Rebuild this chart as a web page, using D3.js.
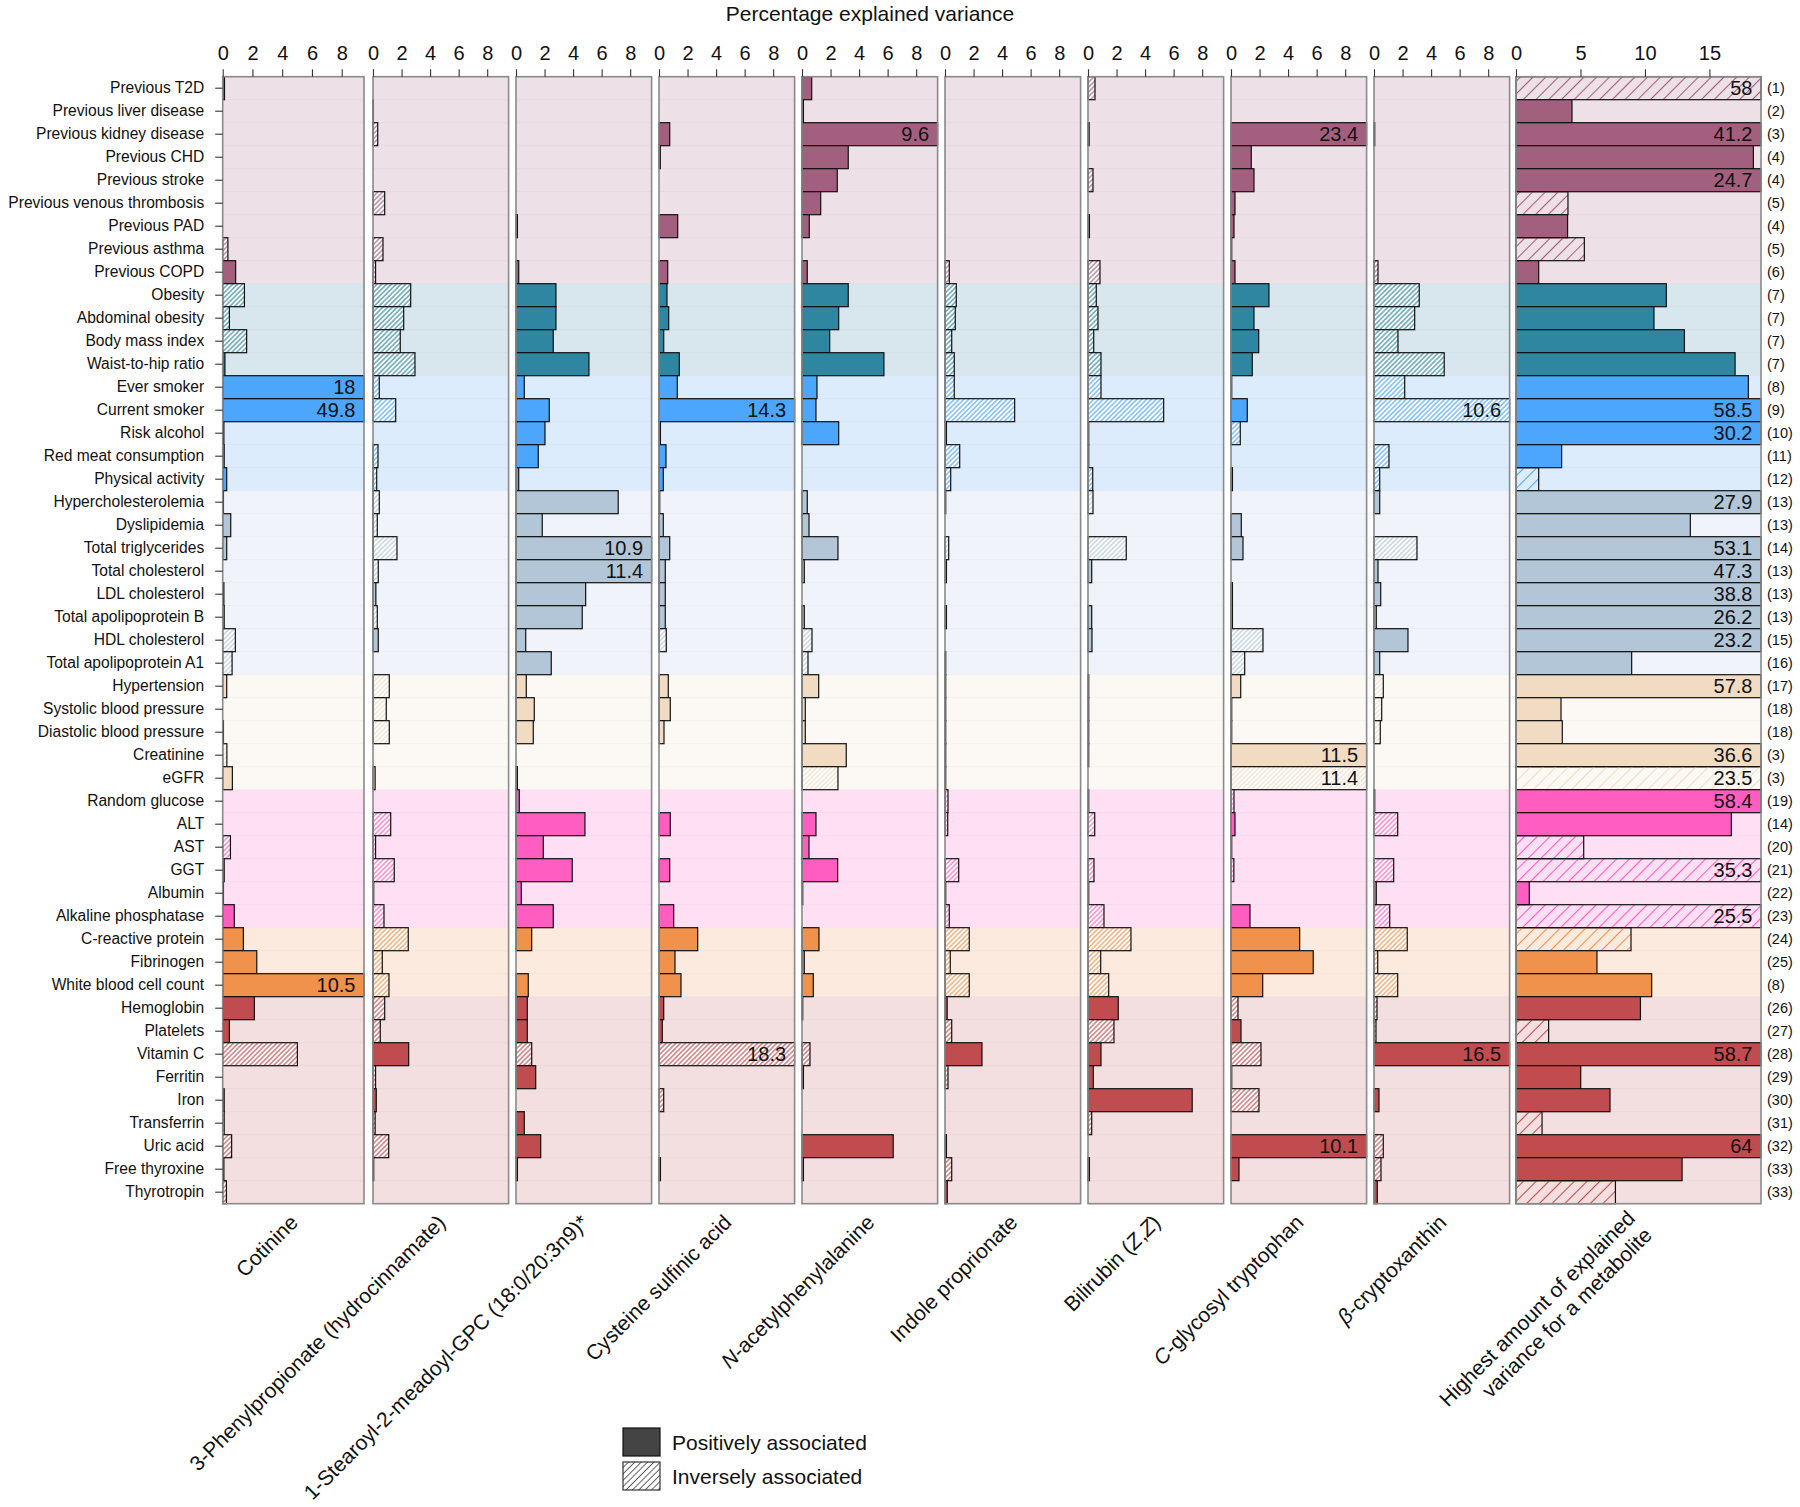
<!DOCTYPE html>
<html><head><meta charset="utf-8">
<script src="https://cdn.jsdelivr.net/npm/d3@7"></script>
<style>
body{margin:0;background:#fff}
svg{display:block;font-family:"Liberation Sans",Arial,Helvetica,sans-serif}
</style>
</head><body>
<svg id="chart" width="1800" height="1507"></svg>
<script>
// ---------------- DATA ----------------
const traits = ["Previous T2D","Previous liver disease","Previous kidney disease","Previous CHD","Previous stroke",
"Previous venous thrombosis","Previous PAD","Previous asthma","Previous COPD",
"Obesity","Abdominal obesity","Body mass index","Waist-to-hip ratio",
"Ever smoker","Current smoker","Risk alcohol","Red meat consumption","Physical activity",
"Hypercholesterolemia","Dyslipidemia","Total triglycerides","Total cholesterol","LDL cholesterol",
"Total apolipoprotein B","HDL cholesterol","Total apolipoprotein A1",
"Hypertension","Systolic blood pressure","Diastolic blood pressure","Creatinine","eGFR",
"Random glucose","ALT","AST","GGT","Albumin","Alkaline phosphatase",
"C-reactive protein","Fibrinogen","White blood cell count",
"Hemoglobin","Platelets","Vitamin C","Ferritin","Iron","Transferrin","Uric acid","Free thyroxine","Thyrotropin"];

const groupSizes = [9,4,5,8,5,6,3,9];
const groupBarColors = ["#a2607e","#2f86a1","#4ca6fb","#b3c6d8","#f1dcc3","#ff5dbf","#f0914c","#c14c4f"];
const groupBgColors  = ["#eee0e7","#d8e6ed","#ddecfc","#f0f3f9","#fcf9f4","#ffdff3","#fdeadf","#f3dfdf"];

const refNumbers = [1,2,3,4,4,5,4,5,6,7,7,7,7,8,9,10,11,12,13,13,14,13,13,13,15,16,17,18,18,3,3,
19,14,20,21,22,23,24,25,8,26,27,28,29,30,31,32,33,33];

// "_" toggles italic
const metaboliteNames = ["Cotinine","3-Phenylpropionate (hydrocinnamate)","1-Stearoyl-2-meadoyl-GPC (18:0/20:3n9)*",
"Cysteine sulfinic acid","_N_-acetylphenylalanine","Indole proprionate","Bilirubin (_Z_,_Z_)",
"_C_-glycosyl tryptophan","_β_-cryptoxanthin"];
const lastPanelName = ["Highest amount of explained","variance for a metabolite"];

const metaboliteTicks = [0,2,4,6,8];
const highestTicks = [0,5,10,15];

// % explained variance; negative sign = inversely associated
const cotinine = [0.12,0,0,0,0,0,0,-0.35,0.87, -1.46,-0.45,-1.61,0.15, 18,49.8,0.08,0.1,0.27,
 0.05,0.54,0.27,0,0.08,0.1,-0.85,-0.63, 0.27,0,0.05,-0.28,0.65, 0,0,-0.52,0.1,0.05,0.78,
 1.39,2.29,10.5, 2.13,0.45,-5.02,0,0.1,-0.1,-0.6,0.08,-0.25];
const phenylpropionate = [0,0.02,-0.33,0,0,-0.82,0,-0.7,-0.18, -2.64,-2.15,-1.91,-2.94, -0.44,-1.59,0,-0.35,-0.26,
 -0.44,-0.3,-1.68,-0.37,0.2,-0.3,0.37,0, -1.14,-0.93,-1.14,0,0.15, 0,-1.24,-0.18,-1.49,0.05,-0.77,
 -2.47,-0.65,-1.12, -0.82,-0.51,2.5,-0.18,0.23,-0.15,-1.1,0.05,0];
const stearoylGPC = [0,0,0,0,0,0,0.1,0,0.19, 2.8,2.8,2.61,5.11, 0.58,2.33,2.03,1.56,0.19,
 7.16,1.84,10.9,11.4,4.88,4.64,0.68,2.47, 0.72,1.28,1.21,0,0.1, 0.23,4.83,1.91,3.94,0.37,2.61,
 1.1,0,0.86, 0.79,0.79,-1.1,1.38,0,0.58,1.73,0.1,0];
const cysteineSulfinic = [0,0,0.75,0.09,0,0,1.31,0,0.61, 0.56,0.68,0.33,1.42, 1.28,14.3,0.1,0.49,0.3,
 0.05,0.3,0.75,0.44,0.44,0.44,-0.51,0, 0.65,0.79,0.35,0,0, 0,0.79,0,0.75,0,1.03,
 2.71,1.12,1.54, 0.33,0.23,-18.3,0,-0.33,0,0,0.1,0];
const acetylphenylalanine = [0.68,0.1,9.6,3.24,2.47,1.31,0.51,0,0.37, 3.24,2.57,1.94,5.74, 1.05,0.98,2.57,0,0,
 0.37,0.49,2.52,0.16,0,0.16,-0.7,-0.42, 1.17,0.23,0.23,3.1,-2.52, 0,0.98,0.49,2.5,0.05,0,
 1.19,0.16,0.79, 0.05,0,-0.56,0.1,0,0,6.39,0.1,0];
const indolePropionate = [0,0,0,0,0,0,0,0,-0.3, -0.79,-0.72,-0.47,-0.65, -0.65,-4.88,0.1,-1.03,-0.4,
 0.05,0,-0.26,0.1,0,0.1,0,0.05, 0.05,0.05,0.05,0.05,0.05, -0.21,-0.19,0,-0.96,0.05,-0.3,
 -1.7,-0.37,-1.7, 0.15,-0.47,2.59,-0.21,0,0,0.1,-0.47,0.16];
const bilirubin = [-0.49,0,0.08,0,-0.35,0,0.1,0,-0.84, -0.58,-0.7,-0.4,-0.91, -0.91,-5.3,0.05,0.05,-0.33,
 -0.35,0,-2.68,0.26,0,0.26,0.28,0, 0.05,0.05,0.05,0.05,0, 0.05,-0.47,0,-0.42,0.05,-1.12,
 -3.01,-0.89,-1.45, 2.12,-1.82,0.91,0.37,7.3,-0.26,0,0.1,0];
const glycosylTryptophan = [0,0,23.4,1.42,1.61,0.28,0.21,0.05,0.28, 2.66,1.61,1.94,1.49, 0.05,1.14,-0.65,0,0.1,
 0,0.72,0.84,0,0.1,0.1,-2.24,-0.96, 0.68,0.05,0.05,11.5,-11.4, -0.21,0.28,0.05,-0.2,0,1.33,
 4.81,5.76,2.22, -0.49,0.7,-2.1,0.05,-1.96,0,10.1,0.56,0];
const cryptoxanthin = [0,0,0.05,0,0,0,0,0,-0.28, -3.17,-2.85,-1.68,-4.92, -2.15,-10.6,0,-1.05,-0.4,
 0.4,0,-3.01,0.28,0.47,0.16,2.38,0.4, -0.65,-0.54,-0.44,0,0, 0.05,-1.66,0,-1.38,0.16,-1.1,
 -2.33,-0.26,-1.66, -0.21,-0.14,16.5,0,0.35,0,-0.65,-0.49,0.23];
const highestExplained = [-58,4.34,41.2,18.41,24.7,-4.03,4.0,-5.3,1.76, 11.66,10.7,13.06,16.99, 18.02,58.5,30.2,3.54,-1.76,
 27.9,13.52,53.1,47.3,38.8,26.2,23.2,8.97, 57.8,3.49,3.59,36.6,-23.5, 58.4,16.7,-5.25,-35.3,1.03,-25.5,
 -8.92,6.28,10.52, 9.65,-2.53,58.7,5.02,7.29,-2.02,64,12.88,-7.71];

const panelSeries = [cotinine,phenylpropionate,stearoylGPC,cysteineSulfinic,acetylphenylalanine,
 indolePropionate,bilirubin,glycosylTryptophan,cryptoxanthin,highestExplained];

// ---------------- LAYOUT ----------------
const svg = d3.select("#chart");
const plotTop = 76.7, rowH = 23, nRows = traits.length;
const y = d3.scaleBand().domain(d3.range(nRows)).range([plotTop, plotTop + nRows*rowH]).padding(0);
const plotBottom = plotTop + nRows*rowH;

const rowGroup = [];
groupSizes.forEach((n,g)=>{ for(let i=0;i<n;i++) rowGroup.push(g); });
const groupStart = groupSizes.map((n,g)=>d3.sum(groupSizes.slice(0,g)));

const panels = [];
panels.push({left:222.7, right:364, max:9.5, ticks:metaboliteTicks});
for(let i=0;i<8;i++){ const l = 373 + 143*i; panels.push({left:l, right:l+135.6, max:9.5, ticks:metaboliteTicks}); }
panels.push({left:1516, right:1761, max:19, ticks:highestTicks});

// hatch patterns: small panels dense hatch on white, last panel wide hatch on transparent
const defs = svg.append("defs");
["s","b"].forEach(kind=>{
  const sp = kind==="s" ? 3.4 : 9;
  groupBarColors.forEach((c,g)=>{
    const p = defs.append("pattern").attr("id",`h${g}${kind}`).attr("patternUnits","userSpaceOnUse")
      .attr("width",sp).attr("height",sp).attr("patternTransform","rotate(-45)");
    if(kind==="s") p.append("rect").attr("width",sp).attr("height",sp).attr("fill","#fff");
    p.append("line").attr("x1",0).attr("x2",sp).attr("y1",sp/2).attr("y2",sp/2)
      .attr("stroke",c).attr("stroke-width",1.1);
  });
});
const lp = defs.append("pattern").attr("id","hleg").attr("patternUnits","userSpaceOnUse")
  .attr("width",4.5).attr("height",4.5).attr("patternTransform","rotate(-45)");
lp.append("rect").attr("width",4.5).attr("height",4.5).attr("fill","#fff");
lp.append("line").attr("x1",0).attr("x2",4.5).attr("y1",2.25).attr("y2",2.25).attr("stroke","#555").attr("stroke-width",0.9);

// title
svg.append("text").attr("x",870).attr("y",21).attr("text-anchor","middle")
  .attr("font-size",21).attr("fill","#111").text("Percentage explained variance");

panels.forEach((P,pi)=>{
  const x = d3.scaleLinear().domain([0,P.max]).range([P.left,P.right]);
  const g = svg.append("g");
  g.selectAll("rect.bg").data(groupSizes).join("rect")
    .attr("x",P.left).attr("width",P.right-P.left)
    .attr("y",(n,gi)=>y(groupStart[gi])).attr("height",n=>n*rowH)
    .attr("fill",(n,gi)=>groupBgColors[gi]);
  g.selectAll("line.sep").data(d3.range(1,nRows)).join("line")
    .attr("x1",P.left).attr("x2",P.right).attr("y1",i=>y(i)).attr("y2",i=>y(i))
    .attr("stroke","#000").attr("stroke-opacity",0.03).attr("stroke-width",1);
  const vals = panelSeries[pi];
  const kind = pi===9 ? "b" : "s";
  const rows = d3.range(nRows).filter(i=>vals[i]!==0);
  g.selectAll("rect.bar").data(rows).join("rect")
    .attr("x",x(0)).attr("y",i=>y(i)).attr("height",y.bandwidth())
    .attr("width",i=>Math.max(0.4, x(Math.min(Math.abs(vals[i]),P.max))-x(0)))
    .attr("fill",i=>vals[i]>0 ? groupBarColors[rowGroup[i]] : `url(#h${rowGroup[i]}${kind})`)
    .attr("stroke","#111").attr("stroke-width",1.2);
  g.selectAll("text.ov").data(rows.filter(i=>Math.abs(vals[i])>P.max)).join("text")
    .attr("x",P.right-8.5).attr("y",i=>y(i)+rowH/2+7.2).attr("text-anchor","end")
    .attr("font-size",20).attr("fill","#111").text(i=>Math.abs(vals[i]));
  g.append("rect").attr("x",P.left).attr("y",plotTop).attr("width",P.right-P.left).attr("height",plotBottom-plotTop)
    .attr("fill","none").attr("stroke","#8a8a8a").attr("stroke-width",1.6);
  const ax = svg.append("g").attr("transform",`translate(0,${plotTop})`)
    .call(d3.axisTop(x).tickValues(P.ticks).tickSize(7.5).tickPadding(9).tickFormat(d3.format("d")));
  ax.select(".domain").remove();
  ax.selectAll("line").attr("stroke","#333").attr("stroke-width",1.1);
  ax.selectAll("text").attr("font-size",20).attr("fill","#111").attr("font-family","Liberation Sans, Arial, sans-serif");

  const cx = (P.left+P.right)/2;
  if(pi<9){
    const t = svg.append("text").attr("transform",`translate(${cx+6},${plotBottom+20}) rotate(-45)`)
      .attr("text-anchor","end").attr("font-size",21).attr("fill","#111");
    metaboliteNames[pi].split("_").forEach((s,k)=>{ if(s) t.append("tspan").attr("font-style",k%2?"italic":"normal").text(s); });
  } else {
    const t = svg.append("text").attr("transform",`translate(${cx+2},${plotBottom+20}) rotate(-45)`)
      .attr("text-anchor","end").attr("font-size",21).attr("fill","#111");
    lastPanelName.forEach((s,k)=>{ t.append("tspan").attr("x",0).attr("y",(k-0.5)*24+6).text(s); });
  }
});

const yl = svg.append("g").attr("transform",`translate(${panels[0].left},0)`)
  .call(d3.axisLeft(y).tickSize(7.5).tickPadding(11).tickFormat(i=>traits[i]));
yl.select(".domain").remove();
yl.selectAll("line").attr("stroke","#333").attr("stroke-width",1.1);
yl.selectAll("text").attr("font-size",15.6).attr("fill","#111").attr("font-family","Liberation Sans, Arial, sans-serif");

svg.append("g").selectAll("text").data(d3.range(nRows)).join("text")
  .attr("x",1767).attr("y",i=>y(i)+rowH/2+5).attr("font-size",14.5).attr("fill","#111")
  .text(i=>`(${refNumbers[i]})`);

const leg = svg.append("g");
leg.append("rect").attr("x",623).attr("y",1428).attr("width",37).attr("height",28)
  .attr("fill","#444").attr("stroke","#111").attr("stroke-width",1.2);
leg.append("rect").attr("x",623).attr("y",1462).attr("width",37).attr("height",28)
  .attr("fill","url(#hleg)").attr("stroke","#333").attr("stroke-width",1.2);
leg.append("text").attr("x",672).attr("y",1449.5).attr("font-size",21).attr("fill","#111").text("Positively associated");
leg.append("text").attr("x",672).attr("y",1483.5).attr("font-size",21).attr("fill","#111").text("Inversely associated");
</script>
</body></html>
